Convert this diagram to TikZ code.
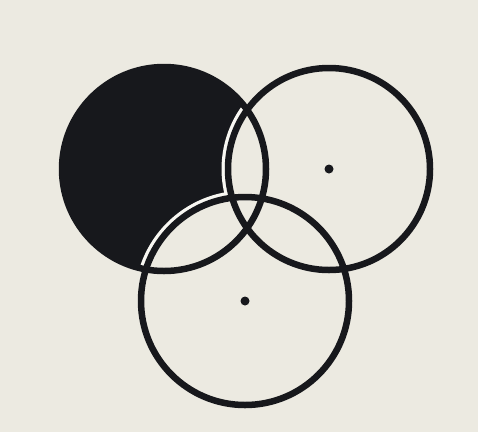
\documentclass[tikz,border=0pt]{standalone}
\usepackage{xcolor}
\definecolor{paper}{HTML}{ECEAE1}
\definecolor{ink}{HTML}{17181C}
\definecolor{halo}{HTML}{F8F7F2}

\begin{document}
\begin{tikzpicture}[x=1pt,y=-1pt]
  \fill[paper] (0,0) rectangle (478,432);
  \useasboundingbox (0,0) rectangle (478,432);
  \coordinate (lc) at (164,169);
  \coordinate (rc) at (329,169);
  \coordinate (bc) at (245,301);
  % the solid disc
  \fill[ink] (lc) circle (102);
  % open discs cut out of it, light rim only on the black
  \begin{scope}
    \clip (lc) circle (102);
    \foreach \c/\r in {rc/101,bc/104}
      \draw[halo,line width=13pt] (\c) circle (\r);
  \end{scope}
  \foreach \c/\r in {rc/101,bc/104}
    \fill[paper] (\c) circle (\r);
  \foreach \c/\r in {lc/102,rc/101,bc/104}
    \draw[ink,line width=6.5pt] (\c) circle (\r);
  \fill[ink] (rc) circle (4.5);
  \fill[ink] (bc) circle (4.5);
\end{tikzpicture}
\end{document}
